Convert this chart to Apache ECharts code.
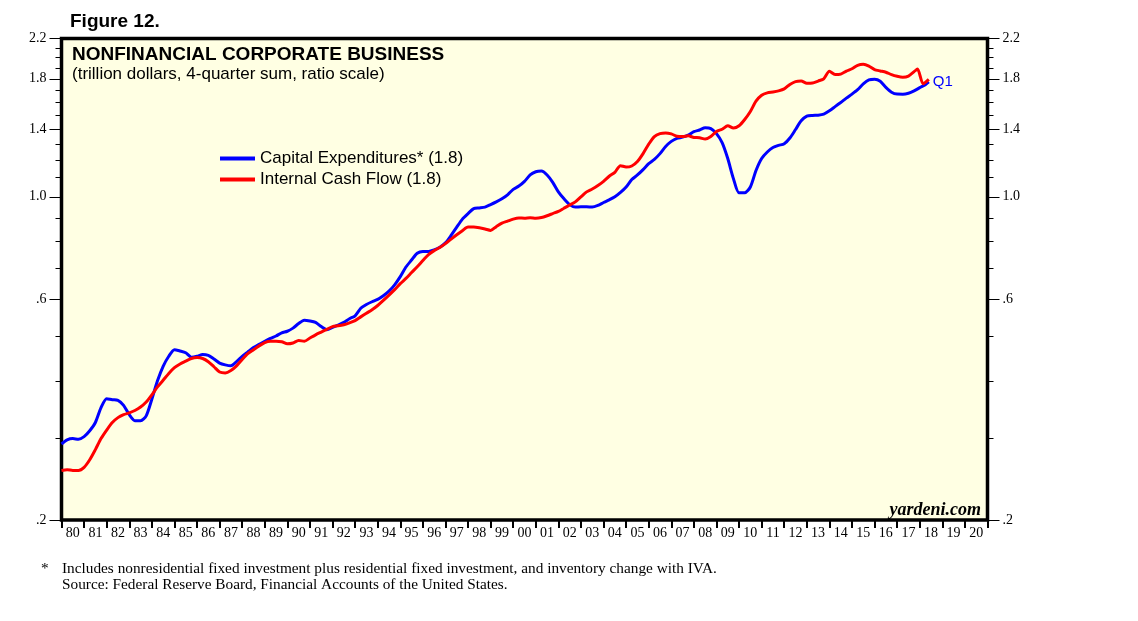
<!DOCTYPE html>
<html>
<head>
<meta charset="utf-8">
<script src="https://cdn.jsdelivr.net/npm/echarts@6/dist/echarts.min.js"></script>
<style>html,body{margin:0;padding:0;background:#fff;}#c{width:1138px;height:621px;}</style>
</head>
<body>
<div id="c"></div>
<script>
// ---- data (trillion dollars, 4-quarter sum) ----
const xLabels = ['80','81','82','83','84','85','86','87','88','89','90','91','92','93','94','95','96','97','98','99','00','01','02','03','04','05','06','07','08','09','10','11','12','13','14','15','16','17','18','19','20'];
const yTickValues = [0.2, 0.6, 1.0, 1.4, 1.8, 2.2];

const capexYears = [1980.0,1980.25,1980.5,1980.75,1981.0,1981.25,1981.5,1981.75,1982.0,1982.25,1982.5,1982.75,1983.0,1983.25,1983.5,1983.75,1984.0,1984.25,1984.5,1984.75,1985.0,1985.25,1985.5,1985.75,1986.0,1986.25,1986.5,1986.75,1987.0,1987.25,1987.5,1987.75,1988.0,1988.25,1988.5,1988.75,1989.0,1989.25,1989.5,1989.75,1990.0,1990.25,1990.5,1990.75,1991.0,1991.25,1991.5,1991.75,1992.0,1992.25,1992.5,1992.75,1993.0,1993.25,1993.5,1993.75,1994.0,1994.25,1994.5,1994.75,1995.0,1995.25,1995.5,1995.75,1996.0,1996.25,1996.5,1996.75,1997.0,1997.25,1997.5,1997.75,1998.0,1998.25,1998.5,1998.75,1999.0,1999.25,1999.5,1999.75,2000.0,2000.25,2000.5,2000.75,2001.0,2001.25,2001.5,2001.75,2002.0,2002.25,2002.5,2002.75,2003.0,2003.25,2003.5,2003.75,2004.0,2004.25,2004.5,2004.75,2005.0,2005.25,2005.5,2005.75,2006.0,2006.25,2006.5,2006.75,2007.0,2007.25,2007.5,2007.75,2008.0,2008.25,2008.5,2008.75,2009.0,2009.25,2009.5,2009.75,2010.0,2010.25,2010.5,2010.75,2011.0,2011.25,2011.5,2011.75,2012.0,2012.25,2012.5,2012.75,2013.0,2013.25,2013.5,2013.75,2014.0,2014.25,2014.5,2014.75,2015.0,2015.25,2015.5,2015.75,2016.0,2016.25,2016.5,2016.75,2017.0,2017.25,2017.5,2017.75,2018.0,2018.25,2018.4];
const capexValues = [0.292,0.298,0.300,0.299,0.303,0.312,0.325,0.350,0.366,0.364,0.363,0.354,0.338,0.328,0.328,0.336,0.365,0.400,0.430,0.452,0.467,0.464,0.460,0.450,0.452,0.456,0.454,0.446,0.437,0.433,0.431,0.440,0.452,0.462,0.472,0.480,0.487,0.494,0.500,0.508,0.512,0.520,0.532,0.541,0.539,0.535,0.524,0.516,0.522,0.528,0.535,0.545,0.553,0.574,0.585,0.593,0.600,0.611,0.625,0.645,0.672,0.705,0.730,0.755,0.762,0.762,0.768,0.778,0.795,0.825,0.860,0.895,0.920,0.943,0.946,0.950,0.962,0.975,0.990,1.010,1.038,1.055,1.080,1.115,1.133,1.137,1.115,1.075,1.025,0.990,0.962,0.950,0.952,0.952,0.950,0.958,0.972,0.985,1.000,1.022,1.050,1.090,1.115,1.145,1.180,1.205,1.240,1.285,1.318,1.338,1.346,1.360,1.383,1.395,1.410,1.405,1.370,1.310,1.210,1.095,1.020,1.020,1.050,1.140,1.210,1.250,1.278,1.292,1.302,1.340,1.398,1.460,1.494,1.500,1.502,1.510,1.535,1.567,1.600,1.635,1.668,1.705,1.755,1.790,1.795,1.778,1.725,1.684,1.668,1.667,1.675,1.695,1.722,1.748,1.772];

const cashYears = [1980.0,1980.25,1980.5,1980.75,1981.0,1981.25,1981.5,1981.75,1982.0,1982.25,1982.5,1982.75,1983.0,1983.25,1983.5,1983.75,1984.0,1984.25,1984.5,1984.75,1985.0,1985.25,1985.5,1985.75,1986.0,1986.25,1986.5,1986.75,1987.0,1987.25,1987.5,1987.75,1988.0,1988.25,1988.5,1988.75,1989.0,1989.25,1989.5,1989.75,1990.0,1990.25,1990.5,1990.75,1991.0,1991.25,1991.5,1991.75,1992.0,1992.25,1992.5,1992.75,1993.0,1993.25,1993.5,1993.75,1994.0,1994.25,1994.5,1994.75,1995.0,1995.25,1995.5,1995.75,1996.0,1996.25,1996.5,1996.75,1997.0,1997.25,1997.5,1997.75,1998.0,1998.25,1998.5,1998.75,1999.0,1999.25,1999.5,1999.75,2000.0,2000.25,2000.5,2000.75,2001.0,2001.25,2001.5,2001.75,2002.0,2002.25,2002.5,2002.75,2003.0,2003.25,2003.5,2003.75,2004.0,2004.25,2004.5,2004.75,2005.0,2005.25,2005.5,2005.75,2006.0,2006.25,2006.5,2006.75,2007.0,2007.25,2007.5,2007.75,2008.0,2008.25,2008.5,2008.75,2009.0,2009.25,2009.5,2009.75,2010.0,2010.25,2010.5,2010.75,2011.0,2011.25,2011.5,2011.75,2012.0,2012.25,2012.5,2012.75,2013.0,2013.25,2013.5,2013.75,2014.0,2014.25,2014.5,2014.75,2015.0,2015.25,2015.5,2015.75,2016.0,2016.25,2016.5,2016.75,2017.0,2017.25,2017.5,2017.75,2017.9,2018.15,2018.4];
const cashValues = [0.256,0.257,0.256,0.256,0.260,0.270,0.284,0.300,0.313,0.325,0.333,0.338,0.341,0.345,0.351,0.360,0.373,0.388,0.401,0.415,0.427,0.435,0.441,0.447,0.449,0.447,0.440,0.429,0.418,0.416,0.421,0.431,0.445,0.458,0.467,0.476,0.484,0.487,0.487,0.486,0.481,0.483,0.489,0.487,0.495,0.503,0.510,0.517,0.524,0.526,0.529,0.534,0.540,0.550,0.560,0.570,0.582,0.597,0.613,0.630,0.649,0.666,0.686,0.706,0.728,0.750,0.765,0.777,0.792,0.810,0.828,0.845,0.860,0.860,0.857,0.852,0.846,0.862,0.877,0.886,0.895,0.900,0.899,0.901,0.899,0.902,0.910,0.920,0.930,0.945,0.960,0.975,1.000,1.025,1.040,1.058,1.080,1.108,1.130,1.168,1.160,1.166,1.192,1.240,1.300,1.350,1.370,1.375,1.368,1.352,1.350,1.355,1.344,1.342,1.333,1.350,1.385,1.400,1.425,1.408,1.425,1.470,1.530,1.610,1.658,1.678,1.685,1.695,1.712,1.750,1.775,1.780,1.760,1.762,1.780,1.800,1.868,1.838,1.842,1.870,1.892,1.925,1.935,1.918,1.885,1.872,1.860,1.838,1.823,1.815,1.825,1.865,1.890,1.756,1.795];

// ---- build ----
const LOG = v => Math.log10(v);
const yMin = LOG(0.2), yMax = LOG(2.2);
const majorTicks = yTickValues.map(LOG);
const minorTicks = [];
for (let k = 2; k <= 22; k++) minorTicks.push(LOG(k / 10));
const fmt = v => { let s = Math.pow(10, v).toFixed(1); return s.replace(/^0/, ''); };

const serif = "'Liberation Serif','Times New Roman',serif";
const sans = "'Liberation Sans',Arial,Helvetica,sans-serif";

function yAx(pos, ticks, len, labels) {
  return {
    type: 'value', position: pos, min: yMin, max: yMax,
    axisLine: { show: false, onZero: false },
    splitLine: { show: false },
    axisTick: { show: true, inside: false, length: len, customValues: ticks, lineStyle: { color: '#000', width: 1 } },
    axisLabel: labels ? { show: true, customValues: ticks, formatter: fmt, color: '#000', fontFamily: serif, fontSize: 14, margin: 15 } : { show: false }
  };
}

const chart = echarts.init(document.getElementById('c'), null, { renderer: 'canvas' });
chart.setOption({
  animation: false,
  backgroundColor: '#ffffff',
  grid: { left: 61.5, right: 1138 - 987.5, top: 38.5, bottom: 621 - 520, show: true, backgroundColor: '#FFFFE3', borderColor: '#000', borderWidth: 3.5, containLabel: false },
  xAxis: [
    { type: 'category', position: 'bottom', data: xLabels, boundaryGap: true,
      axisLine: { show: false, onZero: false },
      axisTick: { show: true, interval: 0, length: 8, lineStyle: { color: '#000', width: 2 } },
      axisLabel: { interval: 0, color: '#000', fontFamily: serif, fontSize: 14, margin: 6 },
      splitLine: { show: false } },
    { type: 'value', position: 'bottom', min: 1980, max: 2021, show: false, axisLine: { onZero: false } }
  ],
  yAxis: [
    yAx('left', minorTicks, 6, false),
    yAx('left', majorTicks, 12, true),
    yAx('right', minorTicks, 6, false),
    yAx('right', majorTicks, 12, true)
  ],
  legend: {
    show: true, orient: 'vertical', left: 215, top: 145, itemWidth: 35, itemHeight: 4, itemGap: 4, icon: 'rect',
    textStyle: { color: '#000', fontFamily: sans, fontSize: 17, lineHeight: 17 },
    data: ['Capital Expenditures* (1.8)', 'Internal Cash Flow (1.8)']
  },
  series: [
    { name: 'Capital Expenditures* (1.8)', type: 'line', xAxisIndex: 1, yAxisIndex: 0, showSymbol: false, smooth: 0.25,
      lineStyle: { color: '#0000FF', width: 3 }, itemStyle: { color: '#0000FF' },
      data: capexYears.map((x, i) => [x, LOG(capexValues[i])]),
      endLabel: { show: true, formatter: 'Q1', color: '#0000FF', fontFamily: sans, fontSize: 15, distance: 4 } },
    { name: 'Internal Cash Flow (1.8)', type: 'line', xAxisIndex: 1, yAxisIndex: 0, showSymbol: false, smooth: 0.25,
      lineStyle: { color: '#FF0000', width: 3 }, itemStyle: { color: '#FF0000' },
      data: cashYears.map((x, i) => [x, LOG(cashValues[i])]) }
  ],
  graphic: [
    { type: 'text', left: 70, top: 12, style: { text: 'Figure 12.', font: "bold 19px " + sans, fill: '#000' } },
    { type: 'text', left: 72, top: 45, style: { text: 'NONFINANCIAL CORPORATE BUSINESS', font: "bold 19px " + sans, fill: '#000' } },
    { type: 'text', left: 72, top: 66, style: { text: '(trillion dollars, 4-quarter sum, ratio scale)', font: "17px " + sans, fill: '#000' } },
    { type: 'text', right: 1138 - 981, top: 501, style: { text: 'yardeni.com', font: "bold italic 18px " + serif, fill: '#000' } },
    { type: 'text', left: 41, top: 561, style: { text: '*', font: "15.3px " + serif, fill: '#000' } },
    { type: 'text', left: 62, top: 561, style: { text: 'Includes nonresidential fixed investment plus residential fixed investment, and inventory change with IVA.', font: "15.3px " + serif, fill: '#000' } },
    { type: 'text', left: 62, top: 577, style: { text: 'Source: Federal Reserve Board, Financial Accounts of the United States.', font: "15.3px " + serif, fill: '#000' } }
  ]
});
</script>
</body>
</html>
